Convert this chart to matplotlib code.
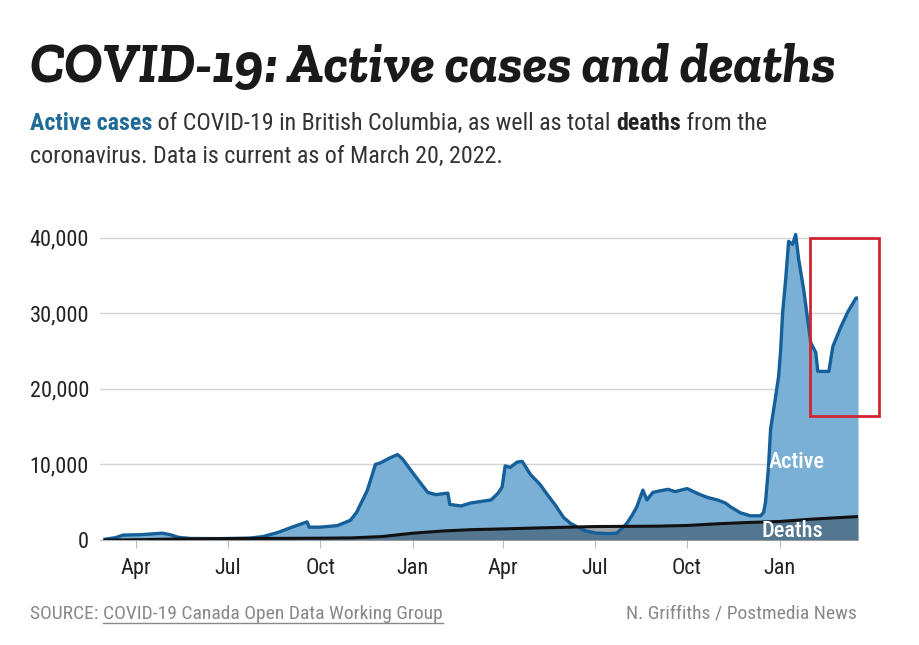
import pandas as pd
import matplotlib
matplotlib.use("Agg")
import matplotlib.pyplot as plt
import matplotlib.dates as mdates
from matplotlib.ticker import FuncFormatter
from matplotlib.patches import Rectangle

# data
active_dates = [
    "2020-03-01", "2020-03-11", "2020-03-19", "2020-04-05", "2020-04-27", "2020-05-05",
    "2020-05-13", "2020-05-25", "2020-06-23", "2020-07-23", "2020-08-05", "2020-08-20",
    "2020-09-01", "2020-09-18", "2020-09-20", "2020-10-01", "2020-10-18", "2020-10-31",
    "2020-11-06", "2020-11-13", "2020-11-17", "2020-11-25", "2020-11-30", "2020-12-10",
    "2020-12-17", "2020-12-22", "2020-12-27", "2021-01-01", "2021-01-09", "2021-01-16",
    "2021-01-24", "2021-02-05", "2021-02-07", "2021-02-18", "2021-02-28", "2021-03-20",
    "2021-03-27", "2021-03-31", "2021-04-03", "2021-04-08", "2021-04-15", "2021-04-20",
    "2021-04-28", "2021-05-08", "2021-05-15", "2021-05-23", "2021-05-31", "2021-06-07",
    "2021-06-14", "2021-06-22", "2021-07-03", "2021-07-16", "2021-07-23", "2021-07-28",
    "2021-08-02", "2021-08-07", "2021-08-12", "2021-08-18", "2021-08-22", "2021-08-28",
    "2021-09-04", "2021-09-12", "2021-09-19", "2021-10-01", "2021-10-09", "2021-10-14",
    "2021-10-22", "2021-10-31", "2021-11-08", "2021-11-13", "2021-11-23", "2021-12-03",
    "2021-12-13", "2021-12-16", "2021-12-18", "2021-12-21", "2021-12-23", "2021-12-28",
    "2021-12-31", "2022-01-02", "2022-01-04", "2022-01-07", "2022-01-10", "2022-01-14",
    "2022-01-17", "2022-01-20", "2022-01-25", "2022-01-29", "2022-02-01", "2022-02-06",
    "2022-02-08", "2022-02-19", "2022-02-23", "2022-03-03", "2022-03-10", "2022-03-18",
    "2022-03-20",
]
active_cases = [
    100, 300, 650, 700, 900, 700,
    350, 200, 180, 250, 450, 1000,
    1600, 2400, 1700, 1700, 1900, 2600,
    3600, 5500, 6600, 10000, 10200, 10900,
    11300, 10700, 9800, 8900, 7500, 6300,
    6000, 6200, 4700, 4500, 4900, 5300,
    6200, 7000, 9800, 9600, 10300, 10400,
    8700, 7300, 6000, 4600, 3000, 2200,
    1700, 1200, 900, 850, 900, 1500,
    2200, 3200, 4400, 6600, 5300, 6300,
    6500, 6700, 6400, 6800, 6300, 6000,
    5600, 5300, 4900, 4400, 3600, 3200,
    3200, 3600, 5000, 9700, 14600, 18900,
    21600, 25000, 30000, 34400, 39500, 39100,
    40400, 37100, 33100, 29100, 26100, 24800,
    22300, 22300, 25600, 28200, 30200, 32000,
    32000,
]

death_dates = [
    "2020-03-01", "2020-04-01", "2020-05-01", "2020-07-01", "2020-10-01", "2020-11-01",
    "2020-12-01", "2021-01-01", "2021-02-01", "2021-03-01", "2021-04-01", "2021-05-01",
    "2021-07-01", "2021-09-01", "2021-10-01", "2021-11-01", "2021-12-01", "2022-01-01",
    "2022-02-01", "2022-03-20",
]
deaths = [
    0, 30, 110, 190, 240, 280,
    450, 900, 1200, 1370, 1470, 1580,
    1780, 1830, 1920, 2150, 2320, 2450,
    2750, 3100,
]

y_ticks = [0, 10000, 20000, 30000, 40000]
month_ticks = ["2020-04-01", "2020-07-01", "2020-10-01", "2021-01-01",
               "2021-04-01", "2021-07-01", "2021-10-01", "2022-01-01"]
x_start, x_end = "2020-02-25", "2022-03-20"

# highlight box: from start of Feb 2022, between these values
box_dates = ["2022-01-31", "2022-04-10"]
box_values = [16400, 39900]

BLUE_LINE = "#15609a"
BLUE_FILL = "#7bb0d6"
NARROW = ["Roboto Condensed", "DejaVu Sans"]

a_dates = pd.to_datetime(active_dates)
d_dates = pd.to_datetime(death_dates)

fig = plt.figure(figsize=(9.19, 6.45), dpi=100)
ax = fig.add_axes([100 / 919, 105 / 645, 758 / 919, 310 / 645])

ax.fill_between(a_dates, active_cases, color=BLUE_FILL, lw=0, zorder=2)
ax.plot(a_dates, active_cases, color=BLUE_LINE, lw=2.4, zorder=4, solid_joinstyle="round")
ax.fill_between(d_dates, deaths, color="#1c2833", alpha=0.42, lw=0, zorder=3)
ax.plot(d_dates, deaths, color="#111111", lw=2.2, zorder=5)

ax.set_xlim(pd.Timestamp(x_start), pd.Timestamp(x_end))
ax.set_ylim(0, 41000)
ax.set_yticks(y_ticks)
ax.yaxis.set_major_formatter(FuncFormatter(lambda v, p: f"{int(v):,}"))
ax.set_xticks(pd.to_datetime(month_ticks))
ax.xaxis.set_major_formatter(mdates.DateFormatter("%b"))
ax.grid(axis="y", color="#d4d4d4", lw=1, zorder=0)
ax.set_axisbelow(True)
for s in ["top", "right", "left"]:
    ax.spines[s].set_visible(False)
ax.spines["bottom"].set_color("#bbbbbb")
ax.tick_params(axis="y", length=0, pad=8, labelsize=16, labelcolor="#222222")
ax.tick_params(axis="x", length=6, color="#bbbbbb", pad=7, labelsize=16, labelcolor="#222222")
for lab in ax.get_xticklabels() + ax.get_yticklabels():
    lab.set_family(NARROW)

# series labels
ax.text(pd.Timestamp("2022-01-18"), 10300, "Active", color="white", fontsize=16,
        family=NARROW, ha="center", va="center", zorder=6, weight="medium")
ax.text(pd.Timestamp("2022-01-14"), 1250, "Deaths", color="white", fontsize=16,
        family=NARROW, ha="center", va="center", zorder=6, weight="medium")

box_x = mdates.date2num(pd.to_datetime(box_dates))
ax.add_patch(Rectangle((box_x[0], box_values[0]), box_x[1] - box_x[0],
                       box_values[1] - box_values[0], fill=False,
                       edgecolor="#d0252f", lw=2, clip_on=False, zorder=7))

# title and subtitle
fig.text(30 / 919, 1 - 82 / 645, "COVID-19: Active cases and deaths", fontsize=40,
         family=["Zilla Slab", "DejaVu Serif"], weight="bold", style="italic",
         color="#1a1a1a", va="baseline")

renderer = fig.canvas.get_renderer()


def put_pieces(x, y, pieces, size, family):
    for txt, color, weight in pieces:
        t = fig.text(x, y, txt, color=color, weight=weight, fontsize=size,
                     family=family, va="baseline")
        bb = t.get_window_extent(renderer)
        x += bb.width / fig.bbox.width
    return x


put_pieces(30 / 919, 1 - 130 / 645, [
    ("Active cases", "#1f6a96", "bold"),
    (" of COVID-19 in British Columbia, as well as total ", "#333333", "normal"),
    ("deaths", "#222222", "bold"),
    (" from the", "#333333", "normal"),
], 17.3, NARROW)
put_pieces(30 / 919, 1 - 163 / 645, [
    ("coronavirus. Data is current as of March 20, 2022.", "#333333", "normal"),
], 17.3, NARROW)

# footer
x0 = 30 / 919
yb = 1 - 619 / 645
t1 = fig.text(x0, yb, "SOURCE: ", color="#888888", fontsize=14, family=NARROW, va="baseline")
x1 = x0 + t1.get_window_extent(renderer).width / fig.bbox.width
t2 = fig.text(x1, yb, "COVID-19 Canada Open Data Working Group", color="#888888",
              fontsize=14, family=NARROW, va="baseline")
x2 = x1 + t2.get_window_extent(renderer).width / fig.bbox.width
fig.add_artist(plt.Line2D([x1, x2], [yb - 4 / 645, yb - 4 / 645], color="#888888", lw=1))
fig.text(857 / 919, yb, "N. Griffiths / Postmedia News", color="#888888", fontsize=14,
         family=NARROW, va="baseline", ha="right")

fig.savefig("out.png", dpi=100, facecolor="white")
